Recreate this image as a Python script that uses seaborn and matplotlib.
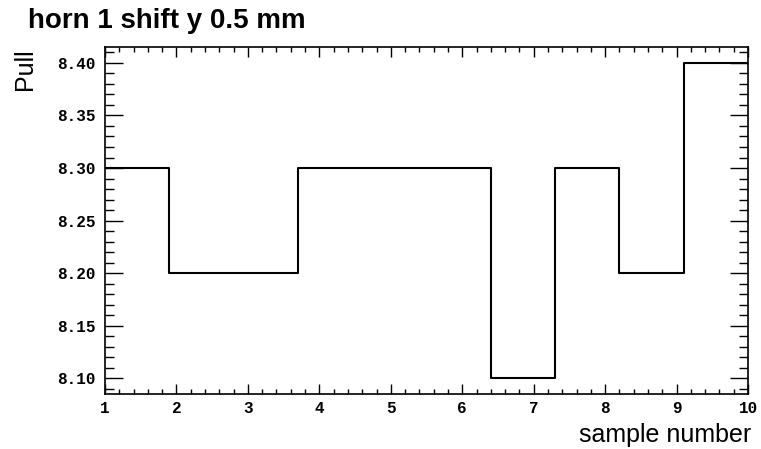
import numpy as np
import pandas as pd
import seaborn as sns
import matplotlib.pyplot as plt
from matplotlib.ticker import MultipleLocator, FormatStrFormatter

# histogram: 10 bins from 1 to 10
bin_edges = [1.0, 1.9, 2.8, 3.7, 4.6, 5.5, 6.4, 7.3, 8.2, 9.1, 10.0]
pull_values = [8.3, 8.2, 8.2, 8.3, 8.3, 8.3, 8.1, 8.3, 8.2, 8.4]

title = "horn 1 shift y 0.5 mm"
x_title = "sample number"
y_title = "Pull"


def main():
    sns.set_style("ticks")
    plt.rcParams['font.family'] = ['Liberation Sans', 'DejaVu Sans']
    plt.rcParams['text.color'] = 'black'
    plt.rcParams['axes.labelcolor'] = 'black'

    # steps-post needs the last value repeated at the final edge
    df = pd.DataFrame({'x': bin_edges, 'y': pull_values + [pull_values[-1]]})

    fig = plt.figure(figsize=(7.61, 4.49), dpi=100)
    ax = fig.add_axes([0.138, 0.1225, 0.845, 0.7725])

    sns.lineplot(data=df, x='x', y='y', estimator=None, drawstyle='steps-post',
                 color='black', linewidth=1.5, ax=ax)

    lo, hi = min(pull_values), max(pull_values)
    margin = 0.05 * (hi - lo)
    ax.set_xlim(bin_edges[0], bin_edges[-1])
    ax.set_ylim(lo - margin, hi + margin)

    ax.xaxis.set_major_locator(MultipleLocator(1))
    ax.xaxis.set_minor_locator(MultipleLocator(0.2))
    ax.yaxis.set_major_locator(MultipleLocator(0.05))
    ax.yaxis.set_minor_locator(MultipleLocator(0.01))
    ax.yaxis.set_major_formatter(FormatStrFormatter('%.2f'))

    ax.tick_params(axis='both', which='both', direction='in', top=True, right=True,
                   color='black', labelcolor='black', width=1)
    ax.tick_params(axis='x', which='major', length=7, pad=5)
    ax.tick_params(axis='x', which='minor', length=3.5)
    ax.tick_params(axis='y', which='major', length=13, pad=7)
    ax.tick_params(axis='y', which='minor', length=6.5)

    for lab in ax.get_xticklabels() + ax.get_yticklabels():
        lab.set_family('Liberation Mono')
        lab.set_fontweight('bold')
        lab.set_fontsize(11.5)

    for sp in ax.spines.values():
        sp.set_linewidth(1.2)
        sp.set_color('black')

    ax.grid(False)
    ax.set_xlabel(x_title, fontsize=18, loc='right', va='baseline')
    ax.xaxis.set_label_coords(1.005, -0.138)
    ax.set_ylabel(y_title, fontsize=18, loc='top')
    ax.yaxis.set_label_coords(-0.106, 0.997)

    fig.text(0.037, 0.9376, title, fontsize=20, fontweight='bold', va='baseline', ha='left')

    fig.savefig('out.png', dpi=100)


if __name__ == '__main__':
    main()
